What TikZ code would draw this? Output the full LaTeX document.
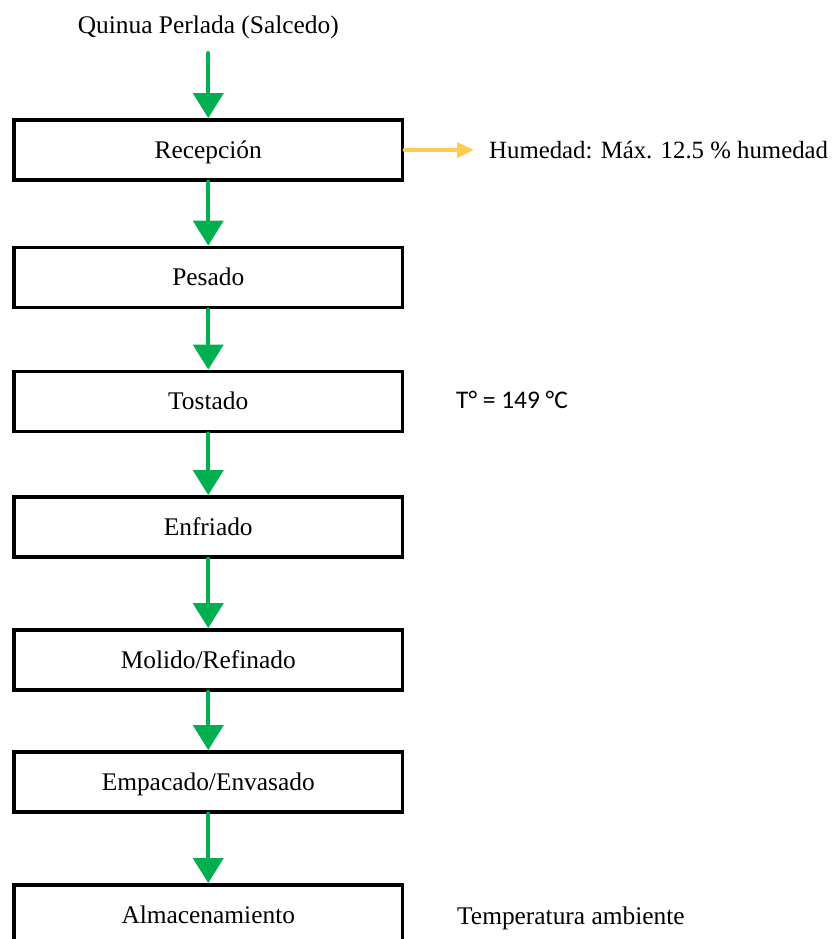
\documentclass[tikz,border=0pt]{standalone}
\usepackage{fontspec}
\setmainfont{Liberation Serif}
\newfontfamily\calibrifont{Carlito}
\usepackage{xcolor}
\usetikzlibrary{arrows.meta,positioning}
\definecolor{verde}{RGB}{0,176,80}
\definecolor{amarillo}{RGB}{255,204,80}

\begin{document}
\begin{tikzpicture}[x=1pt,y=-1pt,line cap=round,line join=round,
  paso/.style={draw=black,line width=3.8pt,line join=miter,minimum width=388.5pt,minimum height=60pt,
    inner sep=0pt,text height=16.8pt,text depth=0pt,font=\fontsize{25.4}{30}\selectfont},
  texto/.style={inner sep=0pt,text height=16.8pt,text depth=0pt,font=\fontsize{25.4}{30}\selectfont},
  flecha/.style={draw=verde,line width=4pt,-{Triangle[width=30pt,length=25pt]}},
  flechaam/.style={draw=amarillo,line width=3.5pt,-{Triangle[width=15pt,length=17pt]}}]
\useasboundingbox (0,0) rectangle (835,939);
\clip (0,0) rectangle (835,939);
% etapas del proceso
\node[texto] (ent) at (208.25,25.5) {Quinua Perlada (Salcedo)};
\node[paso] (rec) at (208.25,150) {Recepción};
\node[paso] (pes) at (208.25,277.5) {Pesado};
\node[paso] (tos) at (208.25,401.5) {Tostado};
\node[paso] (enf) at (208.25,527) {Enfriado};
\node[paso] (mol) at (208.25,660) {Molido/Refinado};
\node[paso] (emp) at (208.25,782) {Empacado/Envasado};
\node[paso] (alm) at (208.25,915) {Almacenamiento};
% notas
\node[texto,anchor=west,font=\fontsize{24.8}{30}\selectfont] (hum) at (489,150) {Humedad: Máx. 12.5 \% humedad};
\node[texto,anchor=west,text height=16.4pt,font=\calibrifont\fontsize{25.4}{30}\selectfont] (temp) at (456,400.5) {T° = 149 °C};
\node[texto,anchor=west] (amb) at (457,916) {Temperatura ambiente};
% flechas
\draw[flecha,shorten <=19pt] (ent.south) -- (rec.north);
\draw[flecha] (rec.south) -- (pes.north);
\draw[flecha] (pes.south) -- (tos.north);
\draw[flecha] (tos.south) -- (enf.north);
\draw[flecha] (enf.south) -- (mol.north);
\draw[flecha] (mol.south) -- (emp.north);
\draw[flecha] (emp.south) -- (alm.north);
\draw[flechaam,shorten >=15pt] (rec.east) -- (hum.west);
\end{tikzpicture}
\end{document}
